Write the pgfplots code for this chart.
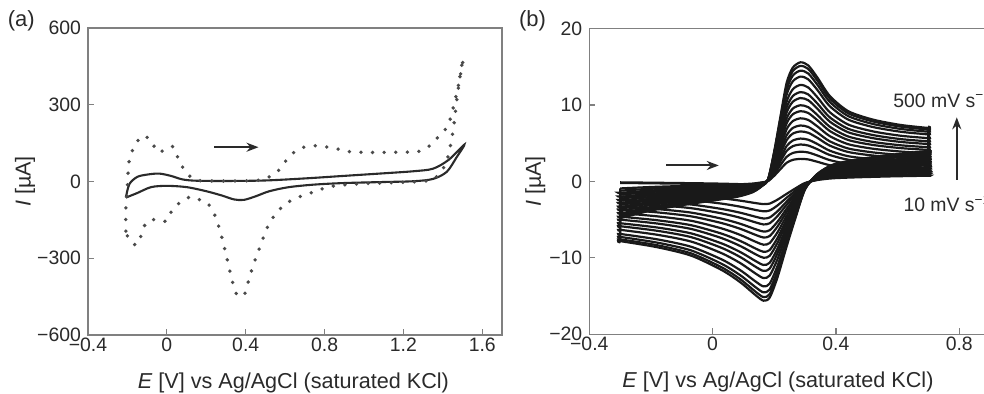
\documentclass[border=0pt]{standalone}
\usepackage{pgfplots}
\pgfplotsset{compat=1.18}
\usepackage{pgfplotstable}
\usepackage{fontspec}
\setmainfont{Liberation Sans}
\usetikzlibrary{arrows.meta}
\definecolor{frame}{HTML}{808080}
\definecolor{ink}{HTML}{2A2A2A}

\pgfplotstableread{
x y1 y2 y3 y4 y5 y6 y7 y8 y9 y10 y11 y12 y13 y14 y15 y16
-0.30 -4.8 -4.66 -4.46 -4.22 -3.89 -3.6 -3.36 -3.07 -2.83 -2.54 -2.26 -2.02 -1.73 -1.49 -1.2 -0.91
-0.20 -3.8 -3.69 -3.53 -3.34 -3.08 -2.85 -2.66 -2.43 -2.24 -2.01 -1.79 -1.6 -1.37 -1.18 -0.95 -0.72
-0.10 -3.1 -3.01 -2.88 -2.73 -2.51 -2.33 -2.17 -1.98 -1.83 -1.64 -1.46 -1.3 -1.12 -0.96 -0.78 -0.59
0.00 -2.5 -2.43 -2.33 -2.2 -2.03 -1.88 -1.75 -1.6 -1.48 -1.33 -1.18 -1.05 -0.9 -0.78 -0.63 -0.48
0.08 -2 -1.94 -1.86 -1.76 -1.62 -1.5 -1.4 -1.28 -1.18 -1.06 -0.94 -0.84 -0.72 -0.62 -0.5 -0.38
0.13 -1.4 -1.36 -1.3 -1.23 -1.13 -1.05 -0.98 -0.9 -0.83 -0.74 -0.66 -0.59 -0.5 -0.43 -0.35 -0.27
0.16 -0.6 -0.58 -0.56 -0.53 -0.49 -0.45 -0.42 -0.38 -0.35 -0.32 -0.28 -0.25 -0.22 -0.19 -0.15 -0.11
0.18 0.3 0.29 0.28 0.26 0.24 0.23 0.21 0.19 0.18 0.16 0.14 0.13 0.11 0.09 0.08 0.06
0.20 4 3.88 3.72 3.52 3.24 3 2.8 2.56 2.36 2.12 1.88 1.68 1.44 1.24 1 0.76
0.22 8.5 8.25 7.91 7.48 6.89 6.38 5.95 5.44 5.02 4.51 4 3.57 3.06 2.64 2.13 1.62
0.24 12.9 12.51 12 11.35 10.45 9.68 9.03 8.26 7.61 6.84 6.06 5.42 4.64 4 3.23 2.45
0.26 14.9 14.45 13.86 13.11 12.07 11.18 10.43 9.54 8.79 7.9 7 6.26 5.36 4.62 3.73 2.83
0.285 15.6 15.13 14.51 13.73 12.64 11.7 10.92 9.98 9.2 8.27 7.33 6.55 5.62 4.84 3.9 2.96
0.31 15.2 14.74 14.14 13.38 12.31 11.4 10.64 9.73 8.97 8.06 7.14 6.38 5.47 4.71 3.8 2.89
0.34 13.6 13.19 12.65 11.97 11.02 10.2 9.52 8.7 8.02 7.21 6.39 5.71 4.9 4.22 3.4 2.58
0.38 11.2 10.86 10.42 9.86 9.07 8.4 7.84 7.17 6.61 5.94 5.26 4.7 4.03 3.47 2.8 2.13
0.44 9.2 8.92 8.56 8.1 7.45 6.9 6.44 5.89 5.43 4.88 4.32 3.86 3.31 2.85 2.3 1.75
0.52 8.1 7.86 7.53 7.13 6.56 6.08 5.67 5.18 4.78 4.29 3.81 3.4 2.92 2.51 2.03 1.54
0.61 7.4 7.18 6.88 6.51 5.99 5.55 5.18 4.74 4.37 3.92 3.48 3.11 2.66 2.29 1.85 1.41
0.70 7 6.79 6.51 6.16 5.67 5.25 4.9 4.48 4.13 3.71 3.29 2.94 2.52 2.17 1.75 1.33
0.70 7 6.79 6.51 6.16 5.67 5.25 4.9 4.48 4.13 3.71 3.29 2.94 2.52 2.17 1.75 1.33
0.70 4 3.88 3.72 3.52 3.24 3 2.8 2.56 2.36 2.12 1.88 1.68 1.44 1.24 1 0.76
0.70 4 3.88 3.72 3.52 3.24 3 2.8 2.56 2.36 2.12 1.88 1.68 1.44 1.24 1 0.76
0.58 3.5 3.4 3.26 3.08 2.84 2.63 2.45 2.24 2.07 1.86 1.65 1.47 1.26 1.09 0.88 0.67
0.47 2.9 2.81 2.7 2.55 2.35 2.18 2.03 1.86 1.71 1.54 1.36 1.22 1.04 0.9 0.73 0.55
0.39 2.2 2.13 2.05 1.94 1.78 1.65 1.54 1.41 1.3 1.17 1.03 0.92 0.79 0.68 0.55 0.42
0.34 1 0.97 0.93 0.88 0.81 0.75 0.7 0.64 0.59 0.53 0.47 0.42 0.36 0.31 0.25 0.19
0.30 -1 -0.97 -0.93 -0.88 -0.81 -0.75 -0.7 -0.64 -0.59 -0.53 -0.47 -0.42 -0.36 -0.31 -0.25 -0.19
0.27 -4.6 -4.46 -4.28 -4.05 -3.73 -3.45 -3.22 -2.94 -2.71 -2.44 -2.16 -1.93 -1.66 -1.43 -1.15 -0.87
0.24 -8.5 -8.25 -7.91 -7.48 -6.89 -6.38 -5.95 -5.44 -5.02 -4.51 -4 -3.57 -3.06 -2.64 -2.13 -1.62
0.21 -12.6 -12.22 -11.72 -11.09 -10.21 -9.45 -8.82 -8.06 -7.43 -6.68 -5.92 -5.29 -4.54 -3.91 -3.15 -2.39
0.185 -15.2 -14.74 -14.14 -13.38 -12.31 -11.4 -10.64 -9.73 -8.97 -8.06 -7.14 -6.38 -5.47 -4.71 -3.8 -2.89
0.165 -15.6 -15.13 -14.51 -13.73 -12.64 -11.7 -10.92 -9.98 -9.2 -8.27 -7.33 -6.55 -5.62 -4.84 -3.9 -2.96
0.14 -14.9 -14.45 -13.86 -13.11 -12.07 -11.18 -10.43 -9.54 -8.79 -7.9 -7 -6.26 -5.36 -4.62 -3.73 -2.83
0.09 -13.2 -12.8 -12.28 -11.62 -10.69 -9.9 -9.24 -8.45 -7.79 -7 -6.2 -5.54 -4.75 -4.09 -3.3 -2.51
0.03 -11.6 -11.25 -10.79 -10.21 -9.4 -8.7 -8.12 -7.42 -6.84 -6.15 -5.45 -4.87 -4.18 -3.6 -2.9 -2.2
-0.07 -9.7 -9.41 -9.02 -8.54 -7.86 -7.28 -6.79 -6.21 -5.72 -5.14 -4.56 -4.07 -3.49 -3.01 -2.43 -1.84
-0.18 -8.6 -8.34 -8 -7.57 -6.97 -6.45 -6.02 -5.5 -5.07 -4.56 -4.04 -3.61 -3.1 -2.67 -2.15 -1.63
-0.30 -7.8 -7.57 -7.25 -6.86 -6.32 -5.85 -5.46 -4.99 -4.6 -4.13 -3.67 -3.28 -2.81 -2.42 -1.95 -1.48
-0.30 -7.8 -7.57 -7.25 -6.86 -6.32 -5.85 -5.46 -4.99 -4.6 -4.13 -3.67 -3.28 -2.81 -2.42 -1.95 -1.48
-0.30 -4.8 -4.66 -4.46 -4.22 -3.89 -3.6 -3.36 -3.07 -2.83 -2.54 -2.26 -2.02 -1.73 -1.49 -1.2 -0.91
}\cvb

\pgfplotsset{
  cvaxis/.style={
    scale only axis,
    anchor=south west,
    axis line style={frame, line width=0.7pt},
    tick style={frame, line width=0.6pt},
    major tick length=3pt,
    tick align=inside,
    xtick pos=bottom,
    ytick pos=left,
    ticklabel style={font=\fontsize{9.7}{11}\selectfont, text=ink},
    xticklabel style={yshift=2pt},
    label style={font=\fontsize{10.8}{12}\selectfont, text=ink},
    xlabel={\textit{E} [V] vs Ag/AgCl (saturated KCl)},
    ylabel={\textit{I} [µA]},
  }
}

\begin{document}
\begin{tikzpicture}
% ---------------- panel (a)
\begin{axis}[cvaxis,
  at={(44pt,29.5pt)}, width=207pt, height=153.5pt,
  xmin=-0.4, xmax=1.7, ymin=-600, ymax=600,
  xtick={-0.4,0,0.4,0.8,1.2,1.6},
  xticklabels={−0.4,0,0.4,0.8,1.2,1.6},
  ytick={-600,-300,0,300,600},
  yticklabels={−600,−300,0,300,600},
  xlabel style={at={(axis description cs:0.496,-0.156)}, anchor=center},
  ylabel style={at={(axis description cs:-0.152,0.5)}, anchor=center},
]
\addplot[ink, line width=1.05pt, smooth, tension=0.5] coordinates {
(-0.208,-63) (-0.19,-10) (-0.15,18) (-0.1,27) (-0.04,31) (0.02,22) (0.08,8)
(0.15,3) (0.3,2) (0.5,4) (0.7,12) (0.9,22) (1.1,32) (1.25,40) (1.35,50)
(1.43,85) (1.509,144) (1.47,95) (1.42,38) (1.35,10) (1.25,1) (1.1,-2) (0.9,-6)
(0.75,-12) (0.62,-22) (0.52,-38) (0.45,-58) (0.39,-72) (0.34,-70) (0.28,-55)
(0.2,-38) (0.1,-22) (0.0,-17) (-0.08,-22) (-0.15,-45) (-0.208,-63)
};
\addplot[ink!85, line width=1.9pt, smooth, tension=0.5, line cap=round,
  dash pattern=on 0pt off 5.8pt] coordinates {
(-0.208,-194) (-0.208,-109) (-0.2,-20) (-0.195,53) (-0.187,98) (-0.162,140)
(-0.128,178) (-0.095,170) (-0.069,150) (-0.06,122) (-0.035,118) (-0.01,122)
(0.032,136) (0.066,73) (0.116,21) (0.16,4) (0.25,2) (0.35,2) (0.45,4)
(0.496,10) (0.555,34) (0.589,66) (0.631,105) (0.682,131) (0.74,140) (0.8,136)
(0.85,131) (0.91,118) (1.0,114) (1.15,114) (1.28,118) (1.33,138) (1.38,177)
(1.424,216) (1.45,280) (1.483,391) (1.504,482) (1.492,436) (1.475,345)
(1.45,190) (1.416,73) (1.348,8) (1.2,-3) (1.0,-8) (0.842,-18) (0.74,-42)
(0.64,-70) (0.58,-103) (0.538,-141) (0.505,-187) (0.471,-258) (0.437,-330)
(0.412,-395) (0.395,-440) (0.374,-450) (0.353,-440) (0.336,-401) (0.32,-350)
(0.294,-265) (0.268,-187) (0.234,-115) (0.2,-80) (0.176,-75) (0.125,-60)
(0.074,-77) (0.024,-116) (-0.002,-155) (-0.052,-148) (-0.103,-158)
(-0.128,-206) (-0.153,-248) (-0.19,-229) (-0.208,-194)
};
\draw[ink, line width=1.0pt, -{Stealth[length=6pt,width=4.5pt]}]
  (axis cs:0.24,134) -- (axis cs:0.465,134);
\end{axis}
% ---------------- panel (b)
\begin{axis}[cvaxis,
  at={(294.65pt,29.85pt)}, width=215.8pt, height=152.8pt,
  xmin=-0.4, xmax=1.0, ymin=-20, ymax=20,
  xtick={-0.4,0,0.4,0.8},
  xticklabels={−0.4,0,0.4,0.8},
  ytick={-20,-10,0,10,20},
  yticklabels={−20,−10,0,10,20},
  xlabel style={at={(axis description cs:0.437,-0.157)}, anchor=center},
  ylabel style={at={(axis description cs:-0.125,0.5)}, anchor=center},
]
\pgfplotsinvokeforeach{1,...,16}{
  \addplot[black!90, line width=1.1pt, smooth, tension=0.45] table[x=x, y=y#1] {\cvb};
}
\addplot[black!90, line width=1.4pt, smooth, tension=0.45] coordinates {
(-0.3,-0.15) (-0.15,-0.22) (0.0,-0.3) (0.1,-0.4) (0.16,-0.5)
};
\draw[ink, line width=1.0pt, -{Stealth[length=6pt,width=4.5pt]}]
  (axis cs:-0.15,2.1) -- (axis cs:0.02,2.1);
\draw[ink, line width=1.0pt, -{Stealth[length=6pt,width=4.5pt]}]
  (axis cs:0.792,0.2) -- (axis cs:0.792,8.4);
\node[anchor=west, font=\fontsize{9.7}{11}\selectfont, text=ink, inner sep=0pt]
  at (axis cs:0.585,10.8) {500 mV s\textsuperscript{−1}};
\node[anchor=west, font=\fontsize{9.7}{11}\selectfont, text=ink, inner sep=0pt]
  at (axis cs:0.618,-2.87) {10 mV s\textsuperscript{−1}};
\end{axis}
\node[font=\fontsize{11}{13}\selectfont, text=ink] at (10.6pt,186.5pt) {(a)};
\node[font=\fontsize{11}{13}\selectfont, text=ink] at (266.25pt,186.5pt) {(b)};
\pgfresetboundingbox
\path[use as bounding box] (0,0) rectangle (492pt,197pt);
\end{tikzpicture}
\end{document}
